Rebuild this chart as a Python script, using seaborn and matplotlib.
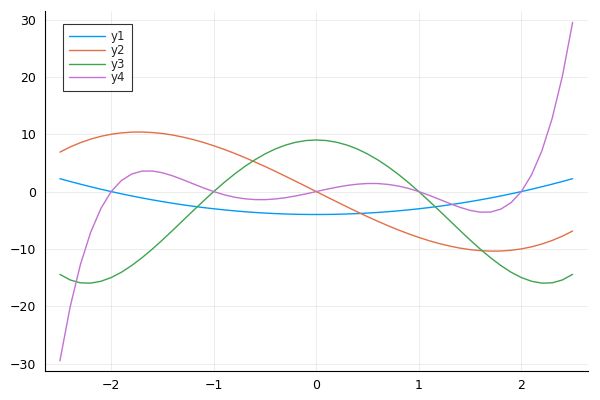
import pandas as pd
import matplotlib.pyplot as plt
import seaborn as sns

# Sample points
x = [-2.5, -2.4, -2.3, -2.2, -2.1, -2.0, -1.9, -1.8, -1.7, -1.6, -1.5, -1.4, -1.3,
     -1.2, -1.1, -1.0, -0.9, -0.8, -0.7, -0.6, -0.5, -0.4, -0.3, -0.2, -0.1, 0.0,
     0.1, 0.2, 0.3, 0.4, 0.5, 0.6, 0.7, 0.8, 0.9, 1.0, 1.1, 1.2, 1.3, 1.4, 1.5,
     1.6, 1.7, 1.8, 1.9, 2.0, 2.1, 2.2, 2.3, 2.4, 2.5]

y1 = [2.25, 1.76, 1.29, 0.84, 0.41, 0.0, -0.39, -0.76, -1.11, -1.44, -1.75, -2.04, -2.31,
      -2.56, -2.79, -3.0, -3.19, -3.36, -3.51, -3.64, -3.75, -3.84, -3.91, -3.96, -3.99, -4.0,
      -3.99, -3.96, -3.91, -3.84, -3.75, -3.64, -3.51, -3.36, -3.19, -3.0, -2.79, -2.56, -2.31,
      -2.04, -1.75, -1.44, -1.11, -0.76, -0.39, 0.0, 0.41, 0.84, 1.29, 1.76, 2.25]

y2 = [6.88, 7.78, 8.53, 9.15, 9.64, 10.0, 10.24, 10.37, 10.39, 10.30, 10.13, 9.86, 9.50,
      9.07, 8.57, 8.0, 7.37, 6.69, 5.96, 5.18, 4.38, 3.54, 2.67, 1.79, 0.90, 0.0,
      -0.90, -1.79, -2.67, -3.54, -4.38, -5.18, -5.96, -6.69, -7.37, -8.0, -8.57, -9.07, -9.50,
      -9.86, -10.13, -10.30, -10.39, -10.37, -10.24, -10.0, -9.64, -9.15, -8.53, -7.78, -6.88]

y3 = [-14.44, -15.42, -15.92, -15.97, -15.65, -15.0, -14.07, -12.90, -11.55, -10.05, -8.44,
      -6.76, -5.04, -3.33, -1.64, 0.0, 1.56, 3.01, 4.34, 5.53, 6.56, 7.43, 8.11, 8.60, 8.90, 9.0,
      8.90, 8.60, 8.11, 7.43, 6.56, 5.53, 4.34, 3.01, 1.56, 0.0, -1.64, -3.33, -5.04, -6.76,
      -8.44, -10.05, -11.55, -12.90, -14.07, -15.0, -15.65, -15.97, -15.92, -15.42, -14.44]

y4 = [-29.53, -20.11, -12.73, -7.10, -2.94, 0.0, 1.93, 3.06, 3.57, 3.59, 3.28, 2.74, 2.07,
      1.35, 0.64, 0.0, -0.55, -0.97, -1.25, -1.40, -1.41, -1.29, -1.07, -0.76, -0.40, 0.0,
      0.40, 0.76, 1.07, 1.29, 1.41, 1.40, 1.25, 0.97, 0.55, 0.0, -0.64, -1.35, -2.07, -2.74,
      -3.28, -3.59, -3.57, -3.06, -1.93, 0.0, 2.94, 7.10, 12.73, 20.11, 29.53]

labels = ['y1', 'y2', 'y3', 'y4']
colors = ['#009AFA', '#E36F47', '#3EA44E', '#C371D2']
x_ticks = [-2, -1, 0, 1, 2]
y_ticks = [-30, -20, -10, 0, 10, 20, 30]

data = pd.DataFrame({
    'x': x * 4,
    'y': y1 + y2 + y3 + y4,
    'series': [lab for lab in labels for _ in x],
})

sns.set_style('white')
plt.rcParams['font.family'] = ['DejaVu Sans']

fig = plt.figure(figsize=(6, 4), dpi=100)
ax = fig.add_axes([0.0742, 0.0725, 0.9058, 0.90])

sns.lineplot(data=data, x='x', y='y', hue='series', palette=colors,
             linewidth=1, ax=ax, legend=True)

ax.set_xlim(-2.65, 2.65)
ax.set_ylim(-31.3, 31.5)
ax.set_xticks(x_ticks)
ax.set_yticks(y_ticks)
ax.set_xticklabels([f'{t}'.replace('-', '\u2212') for t in x_ticks])
ax.set_yticklabels([f'{t}'.replace('-', '\u2212') for t in y_ticks])
ax.set_xlabel('')
ax.set_ylabel('')

ax.grid(True, color='black', alpha=0.1, linewidth=0.5)
ax.set_axisbelow(True)
for side in ['top', 'right']:
    ax.spines[side].set_visible(False)
for side in ['left', 'bottom']:
    ax.spines[side].set_color('black')
    ax.spines[side].set_linewidth(0.8)
ax.tick_params(direction='in', length=4, width=0.8, labelsize=9, colors='black', pad=6)

handles, _ = ax.get_legend_handles_labels()
leg = ax.legend(handles, labels, loc='upper left', bbox_to_anchor=(0.0335, 0.964),
                fontsize=8.5, frameon=True, fancybox=False, handlelength=3.0,
                handletextpad=0.5, labelspacing=0.05, borderpad=0.55, borderaxespad=0)
leg.get_frame().set_edgecolor('black')
leg.get_frame().set_linewidth(0.8)

fig.savefig('out.png', dpi=100)
plt.close(fig)
